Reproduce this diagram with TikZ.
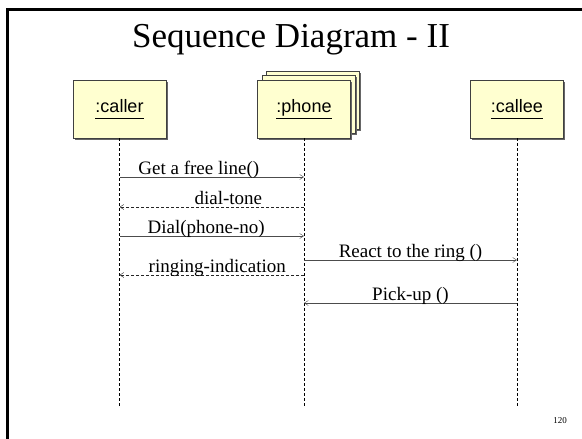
\documentclass[tikz,border=0pt]{standalone}
\usepackage{fontspec}
\setmainfont{Liberation Serif}
\newfontfamily\boxfont{Liberation Sans}
\usepackage{xcolor}
\usepackage{tikz}
\usetikzlibrary{arrows.meta,shadows}

\definecolor{objfill}{RGB}{255,255,208}
\newcommand\objname[1]{\underline{\vphantom{p}#1}}

\begin{document}
\begin{tikzpicture}[
  x=1pt, y=-1pt,
  obj/.style={draw=black!75, fill=objfill, minimum width=93pt,
              minimum height=58pt, inner sep=0pt,
              font=\boxfont\fontsize{18}{20}\selectfont,
              drop shadow={shadow xshift=1.5pt, shadow yshift=-1.5pt,
                           fill=black!60, opacity=1}},
  life/.style={draw=black, thin, dash pattern=on 3pt off 2pt},
  msg/.style={-{Straight Barb[length=4pt,width=5pt]}, black!70, thin},
  ret/.style={msg, black!85, dash pattern=on 3pt off 2pt},
  lbl/.style={anchor=base, yshift=3pt, inner sep=0pt, text=black,
              font=\fontsize{19}{21}\selectfont},
]
\useasboundingbox (0,0) rectangle (582,439);

% =============================================================== frame
\draw[line width=3pt] (7,439) -- (7,9) -- (582,9);
\node[anchor=base, font=\fontsize{35}{40}\selectfont] (title) at (291,47)
  {Sequence Diagram - II};

% =============================================================== objects
\node[obj] (caller) at (119.5,109) {\objname{:caller}};
\node[obj] (phone3) at (313,100) {};
\node[obj] (phone2) at (308.5,104.5) {};
\node[obj] (phone) at (304,109) {\objname{:phone}};
\node[obj] (callee) at (517,109) {\objname{:callee}};

% --- lifelines ---
\foreach \o in {caller,phone,callee} {
  \coordinate (\o-end) at (\o.south |- 0,407);
  \draw[life] (\o.south) -- (\o-end);
}

% =============================================================== messages
\foreach \y/\a/\b/\s/\p/\t in {
    177/caller/phone/msg/0.43/Get a free line(),
    207/phone/caller/ret/0.41/dial-tone,
    236/caller/phone/msg/0.47/Dial(phone-no),
    260/phone/callee/msg/0.5/React to the ring (),
    275/phone/caller/ret/0.47/ringing-indication,
    303/callee/phone/msg/0.5/Pick-up ()} {
  \coordinate (s\y) at (\a.south |- 0,\y);
  \coordinate (e\y) at (\b.south |- 0,\y);
  \draw[\s] (s\y) -- node[lbl, pos=\p] {\t} (e\y);
}

\node[font=\fontsize{9}{10}\selectfont] (pgno) at (560,421) {120};

\end{tikzpicture}
\end{document}
